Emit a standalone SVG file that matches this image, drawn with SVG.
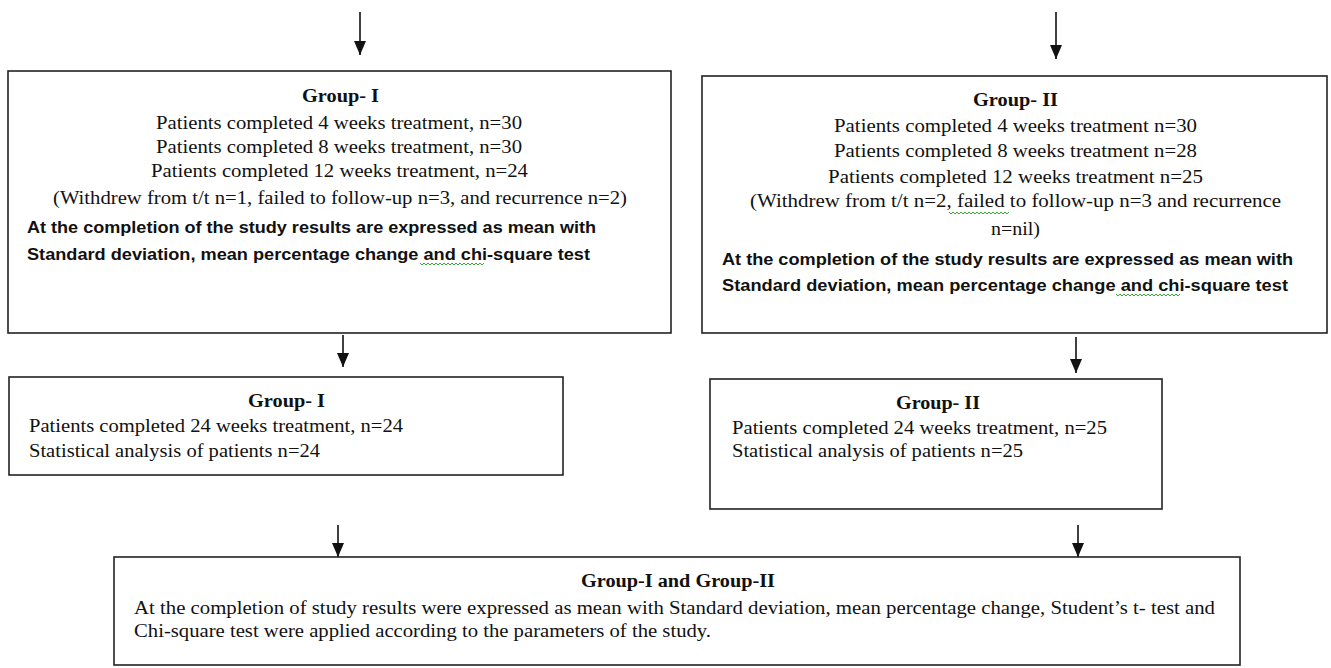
<svg xmlns="http://www.w3.org/2000/svg" width="1331" height="668" viewBox="0 0 1331 668">
<style>
.box{fill:#fff;stroke:#222;stroke-width:1.6}
.s{font-family:"Liberation Serif","Times New Roman",serif;font-size:19px;fill:#111}
.t{font-family:"Liberation Serif","Times New Roman",serif;font-size:18px;font-weight:bold;fill:#111}
.b{font-family:"Liberation Sans",Arial,sans-serif;font-size:17px;font-weight:bold;fill:#111}
.c{stroke:#111;stroke-width:1.6;fill:none}
.sq{stroke:#3a3;stroke-width:1;fill:none}
</style>
<defs>
<marker id="ah" viewBox="0 0 14 12" refX="14" refY="6" markerWidth="14" markerHeight="12" markerUnits="userSpaceOnUse" orient="auto">
<path d="M0,0 L14,6 L0,12 Z" fill="#111"/>
</marker>
</defs>
<rect width="1331" height="668" fill="#fff"/>
<g id="connectors">
<line class="c" x1="360" y1="12" x2="360" y2="55" marker-end="url(#ah)"/>
<line class="c" x1="1056" y1="12" x2="1056" y2="59" marker-end="url(#ah)"/>
<line class="c" x1="343" y1="335" x2="343" y2="367" marker-end="url(#ah)"/>
<line class="c" x1="1076" y1="337" x2="1076" y2="373" marker-end="url(#ah)"/>
<line class="c" x1="338" y1="525" x2="338" y2="557" marker-end="url(#ah)"/>
<line class="c" x1="1078" y1="525" x2="1078" y2="557" marker-end="url(#ah)"/>
</g>
<g id="group1">
<rect class="box" x="8" y="71" width="663" height="262"/>
<text class="t" x="302" y="102" textLength="77" lengthAdjust="spacingAndGlyphs">Group- I</text>
<text class="s" x="156" y="129" textLength="366" lengthAdjust="spacingAndGlyphs">Patients completed 4 weeks treatment, n=30</text>
<text class="s" x="156" y="153" textLength="366" lengthAdjust="spacingAndGlyphs">Patients completed 8 weeks treatment, n=30</text>
<text class="s" x="151" y="177" textLength="377" lengthAdjust="spacingAndGlyphs">Patients completed 12 weeks treatment, n=24</text>
<text class="s" x="53" y="204" textLength="574" lengthAdjust="spacingAndGlyphs">(Withdrew  from t/t n=1, failed to follow-up n=3, and recurrence n=2)</text>
<text class="b" x="27" y="233" textLength="569" lengthAdjust="spacingAndGlyphs">At the completion of the study results are expressed as mean with</text>
<text class="b" x="27" y="260" textLength="563" lengthAdjust="spacingAndGlyphs">Standard deviation, mean percentage change  and  chi-square  test</text>
<path class="sq" d="M420,263 l2,2 l2,-2 l2,2 l2,-2 l2,2 l2,-2 l2,2 l2,-2 l2,2 l2,-2 l2,2 l2,-2 l2,2 l2,-2 l2,2 l2,-2 l2,2 l2,-2 l2,2 l2,-2 l2,2 l2,-2 l2,2 l2,-2 l2,2 l2,-2 l2,2 l2,-2 l2,2 l2,-2 l2,2 l2,-2"/>
</g>
<g id="group2">
<rect class="box" x="702" y="76" width="625" height="257"/>
<text class="t" x="973" y="106" textLength="85" lengthAdjust="spacingAndGlyphs">Group- II</text>
<text class="s" x="834" y="132" textLength="363" lengthAdjust="spacingAndGlyphs">Patients completed 4 weeks treatment n=30</text>
<text class="s" x="834" y="157" textLength="363" lengthAdjust="spacingAndGlyphs">Patients completed 8 weeks treatment n=28</text>
<text class="s" x="828" y="183" textLength="375" lengthAdjust="spacingAndGlyphs">Patients completed 12 weeks treatment n=25</text>
<text class="s" x="750" y="207" textLength="531" lengthAdjust="spacingAndGlyphs">(Withdrew  from t/t n=2,  failed to follow-up  n=3 and recurrence</text>
<text class="s" x="991" y="235" textLength="49" lengthAdjust="spacingAndGlyphs">n=nil)</text>
<text class="b" x="722" y="265" textLength="571" lengthAdjust="spacingAndGlyphs">At the completion of the study results are expressed as mean with</text>
<text class="b" x="722" y="291" textLength="566" lengthAdjust="spacingAndGlyphs">Standard deviation, mean percentage change  and  chi-square  test</text>
<path class="sq" d="M949,212 l2,2 l2,-2 l2,2 l2,-2 l2,2 l2,-2 l2,2 l2,-2 l2,2 l2,-2 l2,2 l2,-2 l2,2 l2,-2 l2,2 l2,-2 l2,2 l2,-2 l2,2 l2,-2 l2,2 l2,-2 l2,2 l2,-2 l2,2 l2,-2 l2,2 l2,-2 l2,2 l2,-2"/>
<path class="sq" d="M1116,294 l2,2 l2,-2 l2,2 l2,-2 l2,2 l2,-2 l2,2 l2,-2 l2,2 l2,-2 l2,2 l2,-2 l2,2 l2,-2 l2,2 l2,-2 l2,2 l2,-2 l2,2 l2,-2 l2,2 l2,-2 l2,2 l2,-2 l2,2 l2,-2 l2,2 l2,-2 l2,2 l2,-2 l2,2 l2,-2"/>
</g>
<g id="group1-final">
<rect class="box" x="9" y="377" width="554" height="98"/>
<text class="t" x="248" y="407" textLength="77" lengthAdjust="spacingAndGlyphs">Group- I</text>
<text class="s" x="29" y="432" textLength="374" lengthAdjust="spacingAndGlyphs">Patients completed 24 weeks treatment, n=24</text>
<text class="s" x="29" y="457" textLength="291" lengthAdjust="spacingAndGlyphs">Statistical analysis of patients n=24</text>
</g>
<g id="group2-final">
<rect class="box" x="710" y="379" width="452" height="130"/>
<text class="t" x="896" y="409" textLength="84" lengthAdjust="spacingAndGlyphs">Group- II</text>
<text class="s" x="732" y="434" textLength="375" lengthAdjust="spacingAndGlyphs">Patients completed 24 weeks treatment, n=25</text>
<text class="s" x="732" y="457" textLength="291" lengthAdjust="spacingAndGlyphs">Statistical analysis of patients n=25</text>
</g>
<g id="combined">
<rect class="box" x="114" y="557" width="1126" height="108"/>
<text class="t" x="581" y="587" textLength="194" lengthAdjust="spacingAndGlyphs">Group-I and Group-II</text>
<text class="s" x="134" y="614" textLength="1081" lengthAdjust="spacingAndGlyphs">At the completion of study results  were  expressed  as mean with  Standard deviation, mean percentage change, Student’s t- test and</text>
<text class="s" x="134" y="637" textLength="577" lengthAdjust="spacingAndGlyphs">Chi-square test were  applied according to the parameters of the study.</text>
</g>
</svg>
